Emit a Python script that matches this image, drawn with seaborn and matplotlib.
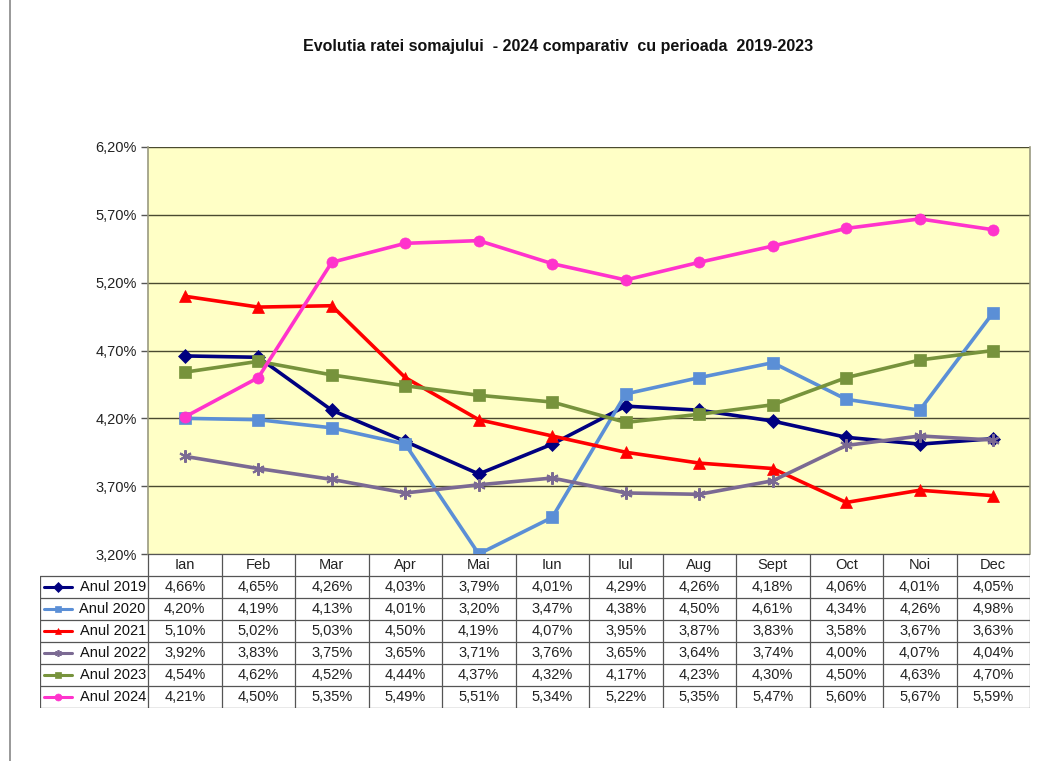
import matplotlib.pyplot as plt
import matplotlib.lines as mlines
import seaborn as sns
import pandas as pd

months = ["Ian", "Feb", "Mar", "Apr", "Mai", "Iun", "Iul", "Aug", "Sept", "Oct", "Noi", "Dec"]
series_names = ["Anul 2019", "Anul 2020", "Anul 2021", "Anul 2022", "Anul 2023", "Anul 2024"]

rate_2019 = [4.66, 4.65, 4.26, 4.03, 3.79, 4.01, 4.29, 4.26, 4.18, 4.06, 4.01, 4.05]
rate_2020 = [4.20, 4.19, 4.13, 4.01, 3.20, 3.47, 4.38, 4.50, 4.61, 4.34, 4.26, 4.98]
rate_2021 = [5.10, 5.02, 5.03, 4.50, 4.19, 4.07, 3.95, 3.87, 3.83, 3.58, 3.67, 3.63]
rate_2022 = [3.92, 3.83, 3.75, 3.65, 3.71, 3.76, 3.65, 3.64, 3.74, 4.00, 4.07, 4.04]
rate_2023 = [4.54, 4.62, 4.52, 4.44, 4.37, 4.32, 4.17, 4.23, 4.30, 4.50, 4.63, 4.70]
rate_2024 = [4.21, 4.50, 5.35, 5.49, 5.51, 5.34, 5.22, 5.35, 5.47, 5.60, 5.67, 5.59]

y_ticks = [3.2, 3.7, 4.2, 4.7, 5.2, 5.7, 6.2]

all_rates = [rate_2019, rate_2020, rate_2021, rate_2022, rate_2023, rate_2024]
colors = ["#000080", "#5b8fd6", "#ff0000", "#7b6a93", "#77933c", "#ff33cc"]
markers = ["D", "s", "^", (6, 2, 0), "s", "o"]
msizes = [7, 8, 8, 9, 8, 8]

def pct(v):
    return f"{v:.2f}%".replace(".", ",")

sns.set_style("white")
plt.rcParams["font.family"] = ["Liberation Sans", "DejaVu Sans"]

W, H = 1043, 761
fig = plt.figure(figsize=(W / 100, H / 100), dpi=100)

# main plot area
ax = fig.add_axes([148 / W, (H - 554) / H, 882 / W, 407 / H])
ax.set_facecolor("#ffffc6")

rows = []
for name, vals in zip(series_names, all_rates):
    for i, v in enumerate(vals):
        rows.append({"serie": name, "x": i, "rate": v})
df = pd.DataFrame(rows)

for name, c, m, ms in zip(series_names, colors, markers, msizes):
    sub = df[df["serie"] == name]
    sns.lineplot(data=sub, x="x", y="rate", ax=ax, color=c, linewidth=2.6,
                 marker=m, markersize=ms, markeredgecolor=c, markeredgewidth=1.5 if m == (6, 2, 0) else 0.5,
                 legend=False, zorder=3)

ax.set_xlim(-0.5, 11.5)
ax.set_ylim(3.2, 6.2)
ax.set_yticks(y_ticks)
ax.set_yticklabels([pct(t) for t in y_ticks], fontsize=10.5, color="#222222")
ax.set_xticks([])
ax.set_xlabel("")
ax.set_ylabel("")
for t in y_ticks:
    ax.axhline(t, color="#4a4a30", linewidth=1.0, zorder=1)
ax.tick_params(axis="y", length=5, width=1, color="#555555", left=True, pad=3)
for side in ["left", "right"]:
    ax.spines[side].set_color("#9a9a80")
    ax.spines[side].set_linewidth(1.2)
ax.spines["top"].set_visible(False)
ax.spines["bottom"].set_visible(False)

fig.text(0.535, 1 - 47 / H, "Evolutia ratei somajului  - 2024 comparativ  cu perioada  2019-2023",
         ha="center", va="center", fontsize=11.5, fontweight="bold", color="#111111")

# data table under the plot
col_w = 882 / 12
left_ext = 108 / col_w
tax = fig.add_axes([40 / W, (H - 708) / H, 990 / W, 154 / H])
tax.set_xlim(-0.5 - left_ext, 11.5)
tax.set_ylim(7, 0)
tax.axis("off")
grid_c = "#555555"
# header row
tax.plot([-0.5, 11.5], [0, 0], color=grid_c, lw=0.9)
for k in range(13):
    tax.plot([k - 0.5, k - 0.5], [0, 7], color=grid_c, lw=0.9)
for r in range(1, 8):
    tax.plot([-0.5 - left_ext, 11.5], [r, r], color=grid_c, lw=0.9)
tax.plot([-0.5 - left_ext, -0.5 - left_ext], [1, 7], color=grid_c, lw=0.9)
for i, m in enumerate(months):
    tax.text(i, 0.5, m, ha="center", va="center", fontsize=10.5, color="#222222")
for r, (name, vals, c, mk) in enumerate(zip(series_names, all_rates, colors, markers), start=1):
    x0 = -0.5 - left_ext + 0.05
    x1 = x0 + 0.38
    tax.plot([x0, x1], [r + 0.5, r + 0.5], color=c, lw=2.2)
    tax.plot([(x0 + x1) / 2], [r + 0.5], marker=mk, color=c, markersize=5,
             markeredgewidth=1.2 if mk == (6, 2, 0) else 0.5)
    tax.text(-0.53, r + 0.5, name, ha="right", va="center", fontsize=10.5, color="#111111")
    for i, v in enumerate(vals):
        tax.text(i, r + 0.5, pct(v), ha="center", va="center", fontsize=10.5, color="#222222")

# outer chart frame (left edge visible)
fig.add_artist(mlines.Line2D([10 / W, 10 / W], [0, 1], color="#888888", lw=1.2))

fig.savefig("out.png", dpi=100, facecolor="white")
